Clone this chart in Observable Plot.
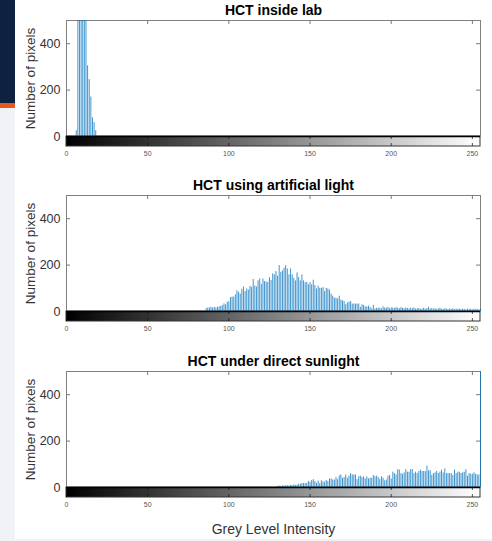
<!DOCTYPE html>
<html><head><meta charset="utf-8">
<script src="https://cdn.jsdelivr.net/npm/d3@7"></script>
<script src="https://cdn.jsdelivr.net/npm/@observablehq/plot@0.6"></script>
<style>
body{margin:0;background:#fff;font-family:"Liberation Sans",Arial,sans-serif;}
#page{position:relative;width:492px;height:541px;overflow:hidden;background:#fff;}
.strip{position:absolute;left:0;width:15px;}
.panel{position:absolute;left:15px;}
</style></head><body>
<div id="page">
 <div class="strip" style="top:0;height:103px;background:#0d2240"></div>
 <div class="strip" style="top:103px;height:5px;background:#e8591e"></div>
 <div class="strip" style="top:108px;height:433px;background:#f0f2f5"></div>
 <div style="position:absolute;left:0;top:539px;width:492px;height:2px;background:#f0f2f5"></div>
</div>
<script>
// ---- data ----
const titles = ["HCT inside lab", "HCT using artificial light", "HCT under direct sunlight"];
const yLabel = "Number of pixels";
const xLabel = "Grey Level Intensity";
const xTicks = [0, 50, 100, 150, 200, 250];
const yTicks = [0, 200, 400];

const labStart = 6;
const labCounts = [25, 900, 1500, 1800, 1600, 1200, 700, 305, 245, 170, 80, 60, 25];

const artStart = 86;
const artCounts = [
  12,15,15,18,15,18,15,18,20,22,25,33,29,40,42,60,62,62,72,89,83,75,96,106,86,97,92,108,104,138,
  110,106,132,140,117,140,129,126,126,146,134,162,158,172,152,198,169,175,187,198,183,158,183,158,
  143,132,166,146,132,158,132,124,126,115,124,115,135,112,97,109,100,100,103,86,100,97,92,75,66,57,
  57,54,66,49,46,43,29,37,40,43,32,32,32,32,32,18,29,26,20,20,23,17,11,26,11,14,14,14,11,20,15,
  14,18,12,16,15,13,17,14,12,16,14,12,15,13,11,14,12,16,10,12,13,9,11,14,10,12,18,11,13,10,
  12,9,11,14,10,9,12,10,8,11,9,12,8,10,9,11,8,10,9,7,10,8,9,7,10,8,9,7,10
];

const sunStart = 130;
const sunCounts = [
  5,6,5,7,6,7,8,6,9,8,
  11,9,10,14,14,17,17,17,18,26,
  22,30,34,26,18,28,17,29,23,23,
  30,26,37,37,32,32,43,34,50,54,
  40,43,54,40,49,60,54,54,54,34,
  46,49,43,46,37,46,37,40,40,52,
  46,49,43,34,46,40,29,32,49,52,
  37,66,60,54,77,75,60,57,63,77,
  66,66,77,77,60,66,60,69,75,69,
  69,69,92,72,72,52,60,63,69,60,
  66,75,63,80,60,60,60,60,52,75,
  60,66,66,60,63,66,77,49,60,57,
  57,63,57,54,54,2600
];

const greyLevels = d3.range(0, 256);

// ---- drawing ----
const FONT = "'Liberation Sans', Arial, Helvetica, sans-serif";
function panel({title, start, counts, top, height, withXLabel}) {
  const W = 477, mL = 51, mR = 12, mT = 20, plotH = 116;
  const plotW = W - mL - mR;
  const mB = height - mT - plotH;
  const yMax = 500;
  const gradH = 10 * yMax / plotH;
  const data = counts.map((c, i) => ({level: start + i, count: c}));
  const marks = [
    Plot.rect(greyLevels, {x1: d => Math.max(0, d - 0.5), x2: d => Math.min(255, d + 1.5), y1: -gradH, y2: 0,
      fill: d => `rgb(${d},${d},${d})`, shapeRendering: "crispEdges"}),
    Plot.rect([0], {x1: 0, x2: 255, y1: -gradH, y2: 0, fill: "none", stroke: "#333", strokeWidth: 1}),
    Plot.ruleX(xTicks, {x: d => d, y1: 0, y2: -gradH, stroke: "#111", strokeOpacity: 0.7, strokeDasharray: "3,4"}),
    Plot.frame({stroke: "#808080"}),
    Plot.tickX(xTicks.filter(t => t > 0), {x: d => d, insetBottom: plotH - 4, stroke: "#777"}),
    Plot.tickY(yTicks.filter(t => t > 0), {y: d => d, insetRight: plotW - 4, stroke: "#777"}),
    Plot.tickY(yTicks.filter(t => t > 0), {y: d => d, insetLeft: plotW - 4, stroke: "#777"}),
    Plot.ruleX(data.filter(d => d.count > 0), {x: "level", y1: 0, y2: d => Math.min(d.count, yMax),
      stroke: "#0072BD", strokeWidth: 0.75}),
    Plot.ruleY([0], {stroke: "#000", strokeWidth: 1.3}),
    Plot.axisX(xTicks, {tickSize: 0, tickPadding: 15, fontSize: 7, fill: "#555", label: null}),
    Plot.axisY(yTicks, {tickSize: 0, tickPadding: 6, fontSize: 12.5, fill: "#333", label: null}),
    Plot.text([title], {frameAnchor: "top", dy: -10, lineAnchor: "middle", fontSize: 14, fontWeight: "bold", fill: "#000"}),
    Plot.text([yLabel], {frameAnchor: "left", dx: -36, rotate: -90, textAnchor: "middle", lineAnchor: "middle", fontSize: 13.5, fill: "#333"})
  ];
  if (withXLabel) {
    marks.push(Plot.text([xLabel], {frameAnchor: "bottom", dy: 42, lineAnchor: "middle", fontSize: 14, fill: "#333"}));
  }
  const svg = Plot.plot({
    width: W, height, marginLeft: mL, marginRight: mR, marginTop: mT, marginBottom: mB,
    x: {domain: [0, 255]}, y: {domain: [0, yMax]}, color: {type: "identity"},
    style: {fontFamily: FONT, background: "none", overflow: "visible"},
    marks
  });
  const wrap = document.createElement("div");
  wrap.className = "panel";
  wrap.style.top = top + "px";
  wrap.appendChild(svg);
  document.getElementById("page").appendChild(wrap);
}

panel({title: titles[0], start: labStart, counts: labCounts, top: 0, height: 175});
panel({title: titles[1], start: artStart, counts: artCounts, top: 175, height: 176});
panel({title: titles[2], start: sunStart, counts: sunCounts, top: 351, height: 190, withXLabel: true});
</script>
</body></html>
